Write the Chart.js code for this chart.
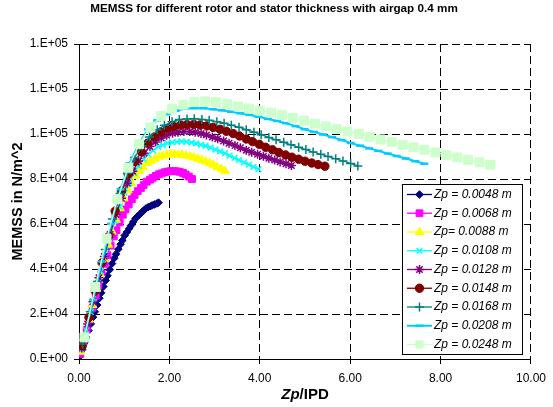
<!DOCTYPE html>
<html>
<head>
<meta charset="utf-8">
<script src="https://cdn.jsdelivr.net/npm/chart.js@4/dist/chart.umd.min.js"></script>
<style>
  body { margin: 0; background: #fff; }
  #chart { display: block; }
</style>
</head>
<body>
<canvas id="chart" width="553" height="407"></canvas>
<script>
var fontFamily = "'Liberation Sans', Arial, sans-serif";

var chartTitle = "MEMSS for different rotor and stator thickness with airgap 0.4 mm";
var yAxisTitle = "MEMSS in N/m^2";
var xTitleItalic = "Zp";
var xTitleRest = "/IPD";

var seriesLabels = ["Zp = 0.0048 m", "Zp = 0.0068 m", "Zp= 0.0088 m", "Zp = 0.0108 m", "Zp = 0.0128 m",
                    "Zp = 0.0148 m", "Zp = 0.0168 m", "Zp = 0.0208 m", "Zp = 0.0248 m"];

// Zp/IPD values for each series
var x0048 = [0.02,0.07,0.12,0.16,0.21,0.26,0.31,0.35,0.40,0.45,0.49,0.54,0.59,0.63,0.68,0.73,0.78,0.82,0.87,0.92,0.96,1.01,1.06,1.11,1.15,1.20,1.25,1.29,1.34,1.39,1.43,1.48,1.53,1.58,1.62,1.67,1.72,1.76];
var x0068 = [0.03,0.10,0.17,0.23,0.30,0.37,0.43,0.50,0.57,0.63,0.70,0.77,0.83,0.90,0.97,1.03,1.10,1.17,1.23,1.30,1.37,1.43,1.50,1.57,1.63,1.70,1.77,1.83,1.90,1.96,2.03,2.10,2.16,2.23,2.30,2.36,2.43,2.50];
var x0088 = [0.04,0.13,0.22,0.30,0.39,0.47,0.56,0.65,0.73,0.82,0.91,0.99,1.08,1.16,1.25,1.34,1.42,1.51,1.59,1.68,1.77,1.85,1.94,2.03,2.11,2.20,2.28,2.37,2.46,2.54,2.63,2.72,2.80,2.89,2.97,3.06,3.15,3.23];
var x0108 = [0.05,0.16,0.26,0.37,0.48,0.58,0.69,0.79,0.90,1.01,1.11,1.22,1.32,1.43,1.53,1.64,1.75,1.85,1.96,2.06,2.17,2.27,2.38,2.49,2.59,2.70,2.80,2.91,3.02,3.12,3.23,3.33,3.44,3.54,3.65,3.76,3.86,3.97];
var x0128 = [0.06,0.19,0.31,0.44,0.56,0.69,0.82,0.94,1.07,1.19,1.32,1.44,1.57,1.69,1.82,1.94,2.07,2.19,2.32,2.45,2.57,2.70,2.82,2.95,3.07,3.20,3.32,3.45,3.57,3.70,3.82,3.95,4.08,4.20,4.33,4.45,4.58,4.70];
var x0148 = [0.07,0.22,0.36,0.51,0.65,0.80,0.94,1.09,1.23,1.38,1.52,1.67,1.81,1.96,2.10,2.25,2.39,2.54,2.68,2.83,2.97,3.12,3.26,3.41,3.55,3.70,3.84,3.99,4.13,4.28,4.42,4.57,4.71,4.86,5.00,5.15,5.29,5.44];
var x0168 = [0.08,0.25,0.41,0.58,0.74,0.91,1.07,1.23,1.40,1.56,1.73,1.89,2.06,2.22,2.39,2.55,2.72,2.88,3.05,3.21,3.37,3.54,3.70,3.87,4.03,4.20,4.36,4.53,4.69,4.86,5.02,5.18,5.35,5.51,5.68,5.84,6.01,6.17];
var x0208 = [0.10,0.31,0.51,0.71,0.92,1.12,1.32,1.53,1.73,1.94,2.14,2.34,2.55,2.75,2.96,3.16,3.36,3.57,3.77,3.97,4.18,4.38,4.58,4.79,4.99,5.20,5.40,5.60,5.81,6.01,6.22,6.42,6.62,6.83,7.03,7.23,7.44,7.64];
var x0248 = [0.12,0.36,0.61,0.85,1.09,1.33,1.58,1.82,2.06,2.31,2.55,2.79,3.03,3.28,3.52,3.76,4.00,4.25,4.49,4.73,4.98,5.22,5.46,5.70,5.94,6.19,6.43,6.67,6.92,7.16,7.40,7.64,7.89,8.13,8.37,8.61,8.86,9.10];

// MEMSS in N/m^2 for each series
var y0048 = [1200,4200,7200,9600,12600,15600,18600,21000,24000,27000,29400,32200,34900,37000,39700,42400,44800,46600,48800,51000,52700,54900,56400,58000,59300,60900,62500,63300,64200,65200,66000,66900,67500,67900,68300,68700,69100,69500];
var y0068 = [2300,7600,12900,17500,22800,28100,32700,38000,42300,46100,50400,54500,57300,60700,64100,66500,68700,71000,72900,74600,76000,77300,78800,79700,80500,81400,82100,82500,83000,83300,83500,83500,83400,83200,82700,82000,81100,80000];
var y0088 = [3200,10400,17600,24000,31200,37600,44300,50800,56600,61900,67000,71400,75000,78100,81500,83500,85200,87100,88000,89000,89900,90300,90700,91000,91000,90900,90700,90400,90000,89600,89000,88300,87800,87000,86300,85300,84400,83500];
var y0108 = [4000,12800,20800,29800,38900,46400,54600,61300,67700,73900,78100,82700,85800,88700,91000,92600,94300,95100,95900,96300,96500,96700,96500,96200,95800,95200,94700,93900,93100,92300,91400,90400,89400,88400,87400,86400,85400,84400];
var y0128 = [4900,15600,25400,36100,45600,55400,64200,71400,78100,83400,88000,91500,94400,96500,98200,99400,100300,100800,101100,101100,100800,100200,99600,98700,97900,96900,95900,94900,93900,92800,91900,91000,90100,89200,88400,87600,86800,86000];
var y0148 = [5900,18500,30200,42800,54300,65700,74700,82100,87700,92100,95900,98700,100900,102400,103300,104000,104200,104300,104000,103600,102900,102100,101200,100200,99100,97800,96600,95400,94100,93000,91800,90700,89700,88800,87900,87100,86400,85700];
var y0168 = [6700,21000,34400,48700,62200,73600,82600,89600,94700,98700,101900,103900,105500,106400,106700,106800,106500,106100,105500,104800,103900,103000,101900,100800,99700,98500,97400,96300,95200,94100,93100,92000,91000,90000,89000,88000,86900,85800];
var y0208 = [8400,26200,43300,60100,75400,87000,95700,102100,106100,108800,110300,111200,111500,111500,111000,110500,109900,109200,108500,107700,106700,105800,104800,103500,102100,100900,99800,98600,97300,96000,94800,93600,92500,91300,90200,89100,87900,86800];
var y0248 = [9600,32000,53500,71000,85000,95500,103000,108000,111200,113000,114200,114500,114200,113300,112200,111300,110400,109500,108400,107200,105900,104600,103400,102200,101100,100000,98800,97600,96400,95200,94100,93000,91800,90700,89600,88500,87400,86300];

var seriesX = [x0048, x0068, x0088, x0108, x0128, x0148, x0168, x0208, x0248];
var seriesY = [y0048, y0068, y0088, y0108, y0128, y0148, y0168, y0208, y0248];

var seriesColors = ["#000080", "#ff00ff", "#ffff00", "#00ffff", "#800080", "#800000", "#008080", "#00ccff", "#ccffcc"];
var seriesMarkers = ["rectRot", "rect", "triangle", "crossRot", "star", "circle", "cross", "line", "rect"];
var markerSizes = [3.8, 4.8, 5, 4, 4.5, 4.2, 4.5, 4, 6.3];
var markerWidths = [1, 1, 1, 1.5, 1.5, 1, 1.5, 2.5, 1];

function excelSci(value){
  if(value === 0) return "0.E+00";
  var exp = Math.floor(Math.log10(value));
  var mant = Math.round(value / Math.pow(10, exp));
  return mant + ".E+" + (exp < 10 ? "0" : "") + exp;
}

var datasets = [];
for(var i = 0; i < seriesLabels.length; i++){
  var pts = [];
  for(var j = 0; j < seriesX[i].length; j++){
    pts.push({x: seriesX[i][j], y: seriesY[i][j]});
  }
  datasets.push({
    label: seriesLabels[i],
    data: pts,
    showLine: true,
    borderColor: seriesColors[i],
    backgroundColor: seriesColors[i],
    borderWidth: (i == 7 ? 2 : 1.3),
    pointStyle: seriesMarkers[i],
    pointRadius: markerSizes[i],
    pointBorderWidth: markerWidths[i],
    pointBackgroundColor: seriesColors[i],
    pointBorderColor: seriesColors[i],
    order: seriesLabels.length - i
  });
}

var excelDecor = {
  id: "excelDecor",
  afterDraw: function(chart){
    var ctx = chart.ctx;
    var area = chart.chartArea;
    ctx.save();
    ctx.fillStyle = "#000";

    //Title
    ctx.font = "bold 11.7px " + fontFamily;
    ctx.textAlign = "center";
    ctx.textBaseline = "middle";
    ctx.fillText(chartTitle, 274, 9);

    //Y axis title
    ctx.save();
    ctx.translate(18, (area.top + area.bottom) / 2);
    ctx.rotate(-Math.PI / 2);
    ctx.font = "bold 14.5px " + fontFamily;
    ctx.fillText(yAxisTitle, 0, 0);
    ctx.restore();

    //X axis title, Zp in italics
    ctx.textAlign = "left";
    ctx.textBaseline = "alphabetic";
    var italicFont = "italic bold 15px " + fontFamily;
    var boldFont = "bold 15px " + fontFamily;
    ctx.font = italicFont;
    var w1 = ctx.measureText(xTitleItalic).width;
    ctx.font = boldFont;
    var w2 = ctx.measureText(xTitleRest).width;
    var startX = (area.left + area.right) / 2 - (w1 + w2) / 2;
    ctx.font = italicFont;
    ctx.fillText(xTitleItalic, startX, 399);
    ctx.font = boldFont;
    ctx.fillText(xTitleRest, startX + w1, 399);

    //Legend box
    var boxLeft = 402, boxTop = 184, boxW = 120, boxH = 170;
    ctx.fillStyle = "#fff";
    ctx.fillRect(boxLeft, boxTop, boxW, boxH);
    ctx.strokeStyle = "#000";
    ctx.lineWidth = 1;
    ctx.strokeRect(boxLeft + 0.5, boxTop + 0.5, boxW, boxH);

    ctx.font = "italic 12px " + fontFamily;
    ctx.textBaseline = "middle";
    chart.data.datasets.forEach(function(ds, idx){
      var yy = boxTop + 10.5 + idx * 18.75;
      ctx.save();
      ctx.strokeStyle = ds.borderColor;
      ctx.lineWidth = ds.borderWidth;
      ctx.beginPath();
      ctx.moveTo(407, yy);
      ctx.lineTo(432, yy);
      ctx.stroke();
      ctx.fillStyle = ds.pointBackgroundColor;
      ctx.strokeStyle = ds.pointBorderColor;
      ctx.lineWidth = ds.pointBorderWidth;
      if(Chart.helpers && Chart.helpers.drawPoint){
        Chart.helpers.drawPoint(ctx, {
          pointStyle: ds.pointStyle,
          radius: Math.min(ds.pointRadius, 5),
          borderWidth: ds.pointBorderWidth,
          rotation: 0
        }, 419.5, yy);
      }
      ctx.restore();
      ctx.fillStyle = "#000";
      ctx.fillText(ds.label, 434, yy);
    });

    ctx.restore();
  }
};

Chart.defaults.font.family = fontFamily;
Chart.defaults.color = "#000";

var memssChart = new Chart(document.getElementById("chart"), {
  type: "scatter",
  data: { datasets: datasets },
  options: {
    responsive: false,
    animation: false,
    devicePixelRatio: 1,
    events: [],
    layout: {
      padding: { left: 0, top: 44, right: 16, bottom: 0 }
    },
    plugins: {
      legend: { display: false },
      title: { display: false },
      tooltip: { enabled: false }
    },
    scales: {
      x: {
        type: "linear",
        min: 0,
        max: 10,
        afterFit: function(scale){ scale.height = 48; },
        ticks: {
          stepSize: 2,
          color: "#000",
          font: { size: 12 },
          padding: 7,
          maxRotation: 0,
          callback: function(value){ return Number(value).toFixed(2); }
        },
        grid: { color: "#000", lineWidth: 1, tickLength: 5 },
        border: { display: true, color: "#000", width: 1, dash: [8, 4] }
      },
      y: {
        type: "linear",
        min: 0,
        max: 140000,
        afterFit: function(scale){ scale.width = 79; },
        ticks: {
          stepSize: 20000,
          color: "#000",
          font: { size: 12 },
          padding: 6,
          callback: function(value){ return excelSci(value); }
        },
        grid: { color: "#000", lineWidth: 1, tickLength: 5 },
        border: { display: true, color: "#000", width: 1, dash: [8, 4] }
      }
    }
  },
  plugins: [excelDecor]
});
</script>
</body>
</html>
